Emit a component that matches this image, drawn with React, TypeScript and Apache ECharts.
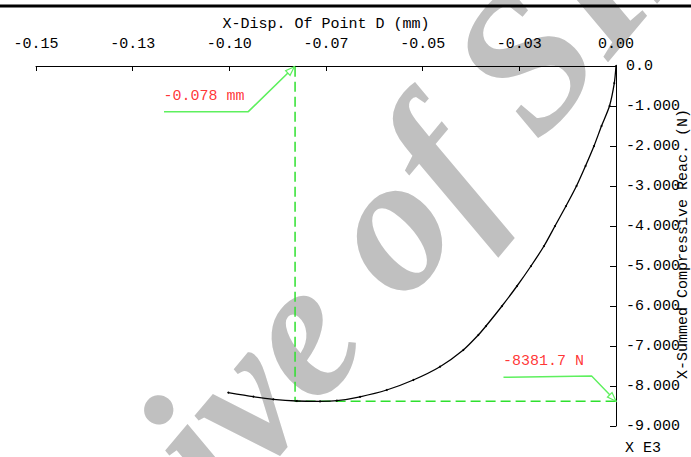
import React, { useEffect, useRef } from "react";
import * as echarts from "echarts";

// ---- data ----
const curveX = [0, -0.00044, -0.00168, -0.00375, -0.00569, -0.00789, -0.01022, -0.01293, -0.01578, -0.01862, -0.02198, -0.0256, -0.02948, -0.03362, -0.03561, -0.03949, -0.04552, -0.05242, -0.0593, -0.06621, -0.07223, -0.07656, -0.08258, -0.08863, -0.0938, -0.10027];
const curveY = [0, -430, -1000, -1500, -2000, -2500, -3000, -3500, -4000, -4500, -5000, -5500, -6000, -6500, -6725, -7100, -7518, -7850, -8100, -8270, -8368, -8382, -8375, -8333, -8268, -8168];

const xTickLabels = ["-0.15", "-0.13", "-0.10", "-0.07", "-0.05", "-0.03", "0.00"];
const yTickLabels = ["-9.000", "-8.000", "-7.000", "-6.000", "-5.000", "-4.000", "-3.000", "-2.000", "-1.000", "0.0"];

// dashed guide through the minimum point
const guideX = [-0.083, -0.083, 0];
const guideY = [-20, -8381.7, -8381.7];

// leader lines for the two annotations
const dispLeaderX = [-0.1169, -0.0951, -0.0832];
const dispLeaderY = [-1142, -1142, -20];
const forceLeaderX = [-0.0291, -0.0063, 0];
const forceLeaderY = [-7783, -7750, -8381.7];

const annotationTexts = ["-0.078 mm", "-8381.7 N"];

const xTitle = "X-Disp. Of Point D (mm)";
const yTitle = "X-Summed Compressive Reac. (N)";
const yScaleNote = "X E3";
const watermark = "Archive of SID";

const FONT = "Liberation Mono";
const GREEN_SOLID = "#5ef05e";
const GREEN_DASH = "#2ee02e";
const RED = "#ff0000";

const zip = (xs: number[], ys: number[]) => xs.map((x, i) => [x, ys[i]]);

export default function App() {
  const ref = useRef<HTMLDivElement>(null);

  useEffect(() => {
    document.body.style.margin = "0";
    if (!ref.current) return;
    const chart = echarts.init(ref.current, null, { renderer: "svg" });

    const dispPts = zip(dispLeaderX, dispLeaderY);
    const forcePts = zip(forceLeaderX, forceLeaderY);

    const baseGraphics: any[] = [
      {
        id: "watermark",
        type: "text",
        z: -10,
        x: 308,
        y: 317,
        rotation: (50 * Math.PI) / 180,
        style: {
          text: watermark,
          fontFamily: "Liberation Serif",
          fontStyle: "italic",
          fontWeight: "bold",
          fontSize: 195,
          fill: "#c0c0c0",
          align: "center",
          verticalAlign: "middle",
        },
      },
      {
        id: "topRule",
        type: "line",
        shape: { x1: 0, y1: 6, x2: 691, y2: 6 },
        style: { stroke: "#000", lineWidth: 3 },
      },
      {
        id: "yTitle",
        type: "text",
        x: 683,
        y: 244,
        rotation: Math.PI / 2,
        style: {
          text: yTitle,
          fontFamily: FONT,
          fontSize: 15,
          fill: "#000",
          align: "center",
          verticalAlign: "middle",
        },
      },
      {
        id: "scaleNote",
        type: "text",
        x: 625,
        y: 448,
        style: {
          text: yScaleNote,
          fontFamily: FONT,
          fontSize: 15,
          fill: "#000",
          align: "left",
          verticalAlign: "middle",
        },
      },
    ];

    chart.setOption({
      animation: false,
      grid: { left: 36, right: 75, top: 66, bottom: 31, containLabel: false },
      xAxis: {
        type: "value",
        position: "top",
        min: -0.15,
        max: 0,
        interval: 0.025,
        name: xTitle,
        nameLocation: "middle",
        nameGap: 32,
        nameTextStyle: { fontFamily: FONT, fontSize: 15, color: "#000" },
        axisLine: { onZero: false, lineStyle: { color: "#000", width: 1 } },
        axisTick: { inside: true, length: 5, lineStyle: { color: "#000" } },
        axisLabel: {
          margin: 14,
          fontFamily: FONT,
          fontSize: 15,
          color: "#000",
          formatter: (v: number) => xTickLabels[Math.round((v + 0.15) / 0.025)],
        },
        splitLine: { show: false },
      },
      yAxis: {
        type: "value",
        position: "right",
        min: -9000,
        max: 0,
        interval: 1000,
        axisLine: { onZero: false, lineStyle: { color: "#000", width: 1 } },
        axisTick: { inside: true, length: 6, lineStyle: { color: "#000" } },
        axisLabel: {
          margin: 10,
          fontFamily: FONT,
          fontSize: 15,
          color: "#000",
          formatter: (v: number) => yTickLabels[Math.round((v + 9000) / 1000)],
        },
        splitLine: { show: false },
      },
      graphic: baseGraphics,
      series: [
        {
          id: "guide",
          type: "line",
          data: zip(guideX, guideY),
          showSymbol: false,
          silent: true,
          lineStyle: { color: GREEN_DASH, width: 1.5, type: [10, 5] },
          z: 3,
        },
        {
          id: "dispLeader",
          type: "line",
          data: dispPts,
          showSymbol: false,
          silent: true,
          lineStyle: { color: GREEN_SOLID, width: 1.6 },
          z: 3,
        },
        {
          id: "forceLeader",
          type: "line",
          data: forcePts,
          showSymbol: false,
          silent: true,
          lineStyle: { color: GREEN_SOLID, width: 1.4 },
          z: 3,
        },
        {
          id: "curve",
          name: "X-Summed Compressive Reac.",
          type: "line",
          data: zip(curveX, curveY),
          smooth: 0.25,
          symbol: "circle",
          symbolSize: 2,
          showSymbol: true,
          itemStyle: { color: "#000" },
          lineStyle: { color: "#000", width: 1.3 },
          z: 4,
        },
        {
          id: "labels",
          type: "scatter",
          silent: true,
          symbolSize: 1,
          itemStyle: { color: "rgba(0,0,0,0)" },
          data: [
            { value: dispPts[0], label: { formatter: annotationTexts[0] } },
            { value: forcePts[0], label: { formatter: annotationTexts[1] } },
          ],
          label: {
            show: true,
            position: [0, -15],
            align: "left",
            verticalAlign: "middle",
            fontFamily: FONT,
            fontSize: 15,
            color: RED,
          },
          z: 5,
        },
      ],
    });

    // open arrowheads at the leader tips, along the last leader segment
    const arrowHead = (id: string, pts: number[][]) => {
      const a = chart.convertToPixel({ gridIndex: 0 }, pts[1]) as number[];
      const b = chart.convertToPixel({ gridIndex: 0 }, pts[2]) as number[];
      const dx = b[0] - a[0];
      const dy = b[1] - a[1];
      const len = Math.hypot(dx, dy) || 1;
      const ux = dx / len;
      const uy = dy / len;
      const L = 9;
      const W = 3.2;
      const cx = b[0] - ux * L;
      const cy = b[1] - uy * L;
      return {
        id,
        type: "polygon",
        z: 10,
        shape: {
          points: [
            [b[0], b[1]],
            [cx - uy * W, cy + ux * W],
            [cx + uy * W, cy - ux * W],
          ],
        },
        style: { fill: "#fff", stroke: GREEN_SOLID, lineWidth: 1.2 },
      };
    };

    chart.setOption({
      graphic: [
        ...baseGraphics,
        arrowHead("arrowDisp", dispPts),
        arrowHead("arrowForce", forcePts),
      ],
    });

    return () => chart.dispose();
  }, []);

  return <div ref={ref} style={{ width: 691, height: 457 }} />;
}
